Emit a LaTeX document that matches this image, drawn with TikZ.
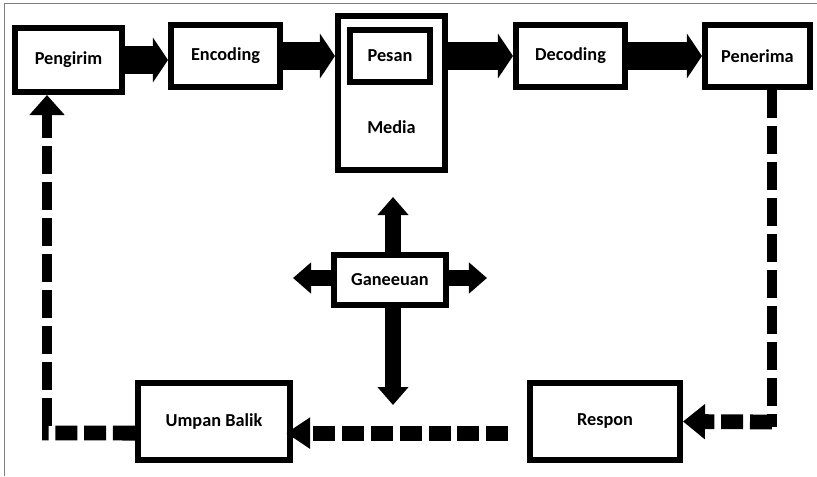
\documentclass[tikz,border=0pt]{standalone}
\usepackage{fontspec}
\setmainfont{Carlito}
\usetikzlibrary{arrows.meta}

\begin{document}
\begin{tikzpicture}[x=0.025cm, y=-0.025cm,
        box/.style={draw, line width=0.15cm, inner sep=0pt, font=\bfseries\fontsize{13}{15}\selectfont},
        flow/.style={line width=0.68cm, -{Triangle[length=0.375cm, width=1.1cm]}},
        noise/.style={line width=0.4cm, -{Triangle[length=0.45cm, width=0.75cm]}},
        fbv/.style={line width=0.25cm, dash pattern=on 0.7cm off 0.2cm},
        fbh/.style={line width=0.37cm, dash pattern=on 0.55cm off 0.17cm}]
            % page and frame
            \useasboundingbox (0,0) rectangle (817,476);
            \draw[gray, line width=0.7pt] (4,476) -- (4,3) -- (817,3);
            % top row
            \node[box, minimum width=2.675cm, minimum height=1.6cm] (pengirim) at (68.5,60) {Pengirim};
            \node[box, minimum width=2.725cm, minimum height=1.55cm] (encoding) at (225.5,56) {Encoding};
            \node[box, minimum width=2.675cm, minimum height=3.85cm] (media) at (391.5,93) {};
            \node[box, minimum width=2.0cm, minimum height=1.3cm] (pesan) at (390,56) {Pesan};
            \node[font=\bfseries\fontsize{13}{15}\selectfont] (medialabel) at (391.5,127) {Media};
            \node[box, minimum width=2.725cm, minimum height=1.55cm] (decoding) at (570.5,56) {Decoding};
            \node[box, minimum width=2.625cm, minimum height=1.55cm] (penerima) at (757.5,56) {Penerima};
            % noise
            \node[box, minimum width=2.8cm, minimum height=1.25cm] (gangguan) at (390,280) {Ganeeuan};
            % bottom row
            \node[box, minimum width=3.8cm, minimum height=1.925cm] (umpan) at (214,421.5) {Umpan Balik};
            \node[box, minimum width=3.75cm, minimum height=1.925cm] (respon) at (605,421.5) {Respon};
            % free ends and corners
            \coordinate (nup) at (393,197);
            \coordinate (ndown) at (393,405);
            \coordinate (nleft) at (293,278);
            \coordinate (nright) at (487,278);
            \coordinate (cright) at (772,422);
            \coordinate (cleft) at (47,433);
            % message flow
            \draw[flow] (pengirim.east) -- (pengirim.east -| encoding.west);
            \draw[flow] (encoding.east) -- (encoding.east -| media.west);
            \draw[flow] (decoding.west -| media.east) -- (decoding.west);
            \draw[flow] (decoding.east) -- (penerima.west);
            % noise arrows
            \draw[noise] (gangguan.north -| nup) -- (nup);
            \draw[noise] (gangguan.south -| ndown) -- (ndown);
            \draw[noise] (gangguan.west |- nleft) -- (nleft);
            \draw[noise] (gangguan.east |- nright) -- (nright);
            % feedback loop
            \draw[fbv] (cright |- penerima.south) -- ([yshift=-0.12cm]cright);
            \draw[fbh, -{Triangle[length=0.55cm, width=0.85cm]}] (cright) -- (respon.east);
            \draw[fbh, shorten <=0.47cm, shorten >=-0.17cm, -{Triangle[length=0.6cm, width=0.75cm]}]
                ([yshift=-0.29cm]respon.west) -- ([yshift=-0.29cm]umpan.east);
            \draw[fbh] ([yshift=-0.29cm]umpan.west) -- ([xshift=-0.12cm]cleft);
            \draw[fbv, -{Triangle[length=0.5cm, width=0.85cm]}] ([yshift=0.185cm]cleft) -- (cleft |- pengirim.south);
        \end{tikzpicture}
\end{document}
